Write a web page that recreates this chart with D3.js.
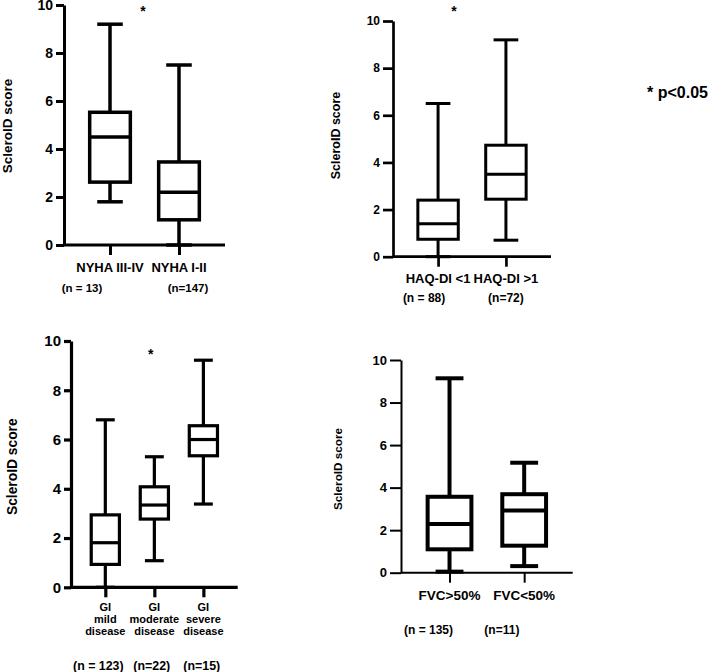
<!DOCTYPE html>
<html><head><meta charset="utf-8">
<script src="https://cdn.jsdelivr.net/npm/d3@7"></script>
<style>
html,body{margin:0;padding:0;background:#fff;}
svg{display:block;}
text{font-family:"Liberation Sans",Arial,sans-serif;font-weight:bold;fill:#000;}
</style></head>
<body>
<script>
// ---- data: [whisker low, Q1, median, Q3, whisker high] ----
const yTicks = [0, 2, 4, 6, 8, 10];
const yTitle = "ScleroID score";

const nyhaGroups = [["NYHA III-IV"], ["NYHA I-II"]];
const nyhaN = ["(n = 13)", "(n=147)"];
const nyhaStats = [[1.8, 2.62, 4.5, 5.53, 9.2], [0, 1.05, 2.2, 3.46, 7.5]];

const haqGroups = [["HAQ-DI <1"], ["HAQ-DI >1"]];
const haqN = ["(n = 88)", "(n=72)"];
const haqStats = [[0, 0.74, 1.4, 2.4, 6.5], [0.7, 2.44, 3.5, 4.73, 9.2]];

const giGroups = [["GI", "mild", "disease"], ["GI", "moderate", "disease"], ["GI", "severe", "disease"]];
const giN = ["(n = 123)", "(n=22)", "(n=15)"];
const giStats = [[0, 0.93, 1.81, 2.94, 6.8], [1.08, 2.77, 3.34, 4.08, 5.3], [3.38, 5.34, 6.0, 6.56, 9.22]];

const fvcGroups = [["FVC>50%"], ["FVC<50%"]];
const fvcN = ["(n = 135)", "(n=11)"];
const fvcStats = [[0.05, 1.1, 2.29, 3.57, 9.14], [0.31, 1.27, 2.92, 3.69, 5.17]];

const sigNote = "* p<0.05";
const star = "*";

// ---- layout (positions / styles) ----
const panels = [
  {groups: nyhaGroups, ns: nyhaN, stats: nyhaStats, sig: true,
   x0: 64, x1: 225, yTop: 5, yBot: 245, pad: 0.667, axisW: 3, boxW: 3.5, tickLen: 8,
   tickFont: 14, catFont: 13, catY: 272, lineH: 12, nFont: 11.5, nY: 292, nDx: [-28, 9],
   starX: 143, starY: 16, titleX: 7, titleY: 126, titleFont: 13.5},
  {groups: haqGroups, ns: haqN, stats: haqStats, sig: true,
   x0: 393, x1: 551, yTop: 21, yBot: 256.7, pad: 0.664, axisW: 2.7, boxW: 3, tickLen: 10,
   tickFont: 12, catFont: 13, catY: 282.5, lineH: 12, nFont: 12, nY: 302, nDx: [-14, 0],
   starX: 454, starY: 16, titleX: 336, titleY: 135.5, titleFont: 12.5},
  {groups: giGroups, ns: giN, stats: giStats, sig: true,
   x0: 71, x1: 237.7, yTop: 341, yBot: 587.3, pad: 0.7, axisW: 3.2, boxW: 3.2, tickLen: 7,
   tickFont: 15, catFont: 11, catY: 611, lineH: 12, nFont: 12.4, nY: 670, nDx: [-7, -2.6, -1.6],
   starX: 150.7, starY: 359, titleX: 12, titleY: 466.7, titleFont: 13.8},
  {groups: fvcGroups, ns: fvcN, stats: fvcStats, sig: false,
   x0: 401, x1: 572.7, yTop: 360, yBot: 572.7, pad: 0.65, axisW: 2, boxW: 4, tickLen: 11,
   tickFont: 13, catFont: 13.5, catY: 600, lineH: 12, nFont: 12, nY: 634, nDx: [-21, -22.3],
   starX: 0, starY: 0, titleX: 337.7, titleY: 469, titleFont: 11.7}
];

const W = 708, H = 672;
const svg = d3.select("body").append("svg").attr("width", W).attr("height", H);

panels.forEach(p => {
  const g = svg.append("g");
  const cats = p.groups.map(d => d.join(" "));
  const x = d3.scalePoint().domain(cats).range([p.x0, p.x1]).padding(p.pad);
  const y = d3.scaleLinear().domain([0, 10]).range([p.yBot, p.yTop]);
  const bw = x.step() * 0.64;
  const cw = bw * 0.5;

  // y axis
  const ya = g.append("g").attr("transform", `translate(${p.x0},0)`)
    .call(d3.axisLeft(y).tickValues(yTicks).tickSize(p.tickLen).tickSizeOuter(0).tickPadding(3).tickFormat(d3.format("d")));
  ya.select(".domain").attr("stroke", "#000").attr("stroke-width", p.axisW);
  ya.selectAll(".tick line").attr("stroke", "#000").attr("stroke-width", p.axisW);
  ya.selectAll(".tick text").attr("font-size", p.tickFont).attr("font-weight", "bold")
    .attr("font-family", "Liberation Sans, Arial, sans-serif").attr("fill", "#000");

  // x axis
  const xa = g.append("g").attr("transform", `translate(0,${p.yBot})`)
    .call(d3.axisBottom(x).tickSize(10).tickSizeOuter(0).tickFormat(""));
  xa.select(".domain").attr("stroke", "#000").attr("stroke-width", p.axisW)
    .attr("d", `M${p.x0},0H${p.x1}`);
  xa.selectAll(".tick line").attr("stroke", "#000").attr("stroke-width", p.axisW);

  // boxes
  const bx = g.selectAll("g.box").data(p.stats).join("g").attr("class", "box")
    .attr("transform", (d, i) => `translate(${x(cats[i])},0)`);
  const st = {stroke: "#000", "stroke-width": p.boxW, fill: "none"};
  const apply = sel => { Object.entries(st).forEach(([k, v]) => sel.attr(k, v)); return sel; };
  apply(bx.append("line").attr("x1", 0).attr("x2", 0).attr("y1", d => y(d[0])).attr("y2", d => y(d[1])));
  apply(bx.append("line").attr("x1", 0).attr("x2", 0).attr("y1", d => y(d[3])).attr("y2", d => y(d[4])));
  apply(bx.append("line").attr("x1", -cw / 2).attr("x2", cw / 2).attr("y1", d => y(d[0])).attr("y2", d => y(d[0])).attr("stroke-linecap", "square"));
  apply(bx.append("line").attr("x1", -cw / 2).attr("x2", cw / 2).attr("y1", d => y(d[4])).attr("y2", d => y(d[4])).attr("stroke-linecap", "square"));
  apply(bx.append("rect").attr("x", -bw / 2 + p.boxW / 2).attr("width", bw - p.boxW)
    .attr("y", d => y(d[3])).attr("height", d => y(d[1]) - y(d[3])).attr("fill", "#fff"));
  apply(bx.append("line").attr("x1", -bw / 2 + p.boxW / 2).attr("x2", bw / 2 - p.boxW / 2).attr("y1", d => y(d[2])).attr("y2", d => y(d[2])));

  // category labels
  p.groups.forEach((lines, i) => {
    const t = g.append("text").attr("text-anchor", "middle").attr("font-size", p.catFont)
      .attr("x", x(cats[i])).attr("y", p.catY);
    lines.forEach((ln, j) => t.append("tspan").attr("x", x(cats[i])).attr("dy", j === 0 ? 0 : p.lineH).text(ln));
    g.append("text").attr("text-anchor", "middle").attr("font-size", p.nFont)
      .attr("x", x(cats[i]) + p.nDx[i]).attr("y", p.nY).text(p.ns[i]);
  });

  // y title
  g.append("text").attr("text-anchor", "middle").attr("font-size", p.titleFont)
    .attr("transform", `translate(${p.titleX},${p.titleY}) rotate(-90)`).attr("dy", "0.35em").text(yTitle);

  if (p.sig) {
    g.append("text").attr("text-anchor", "middle").attr("font-size", 14)
      .attr("x", p.starX).attr("y", p.starY).text(star);
  }
});

svg.append("text").attr("x", 647).attr("y", 98).attr("font-size", 16).text(sigNote);
</script>
</body></html>
